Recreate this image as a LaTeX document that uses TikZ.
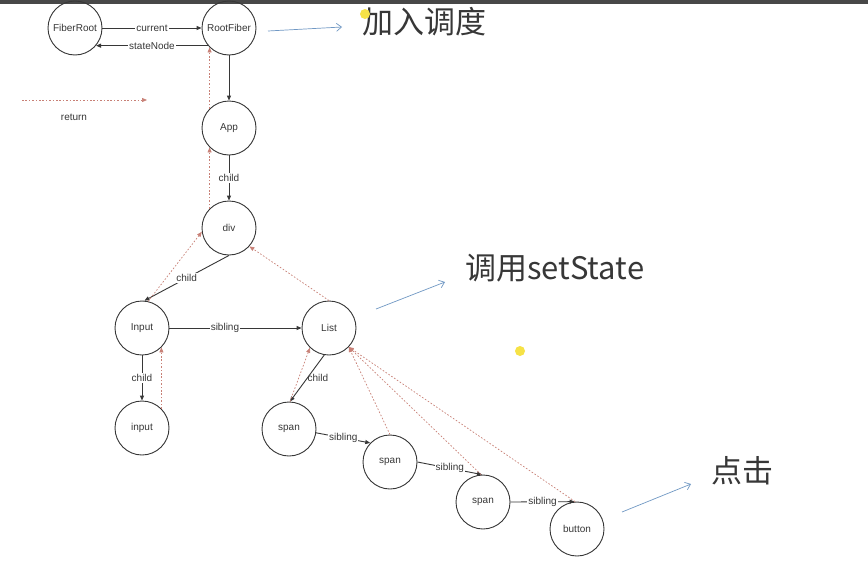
\documentclass[tikz,border=0pt]{standalone}
\usepackage{fontspec}
\setmainfont{Liberation Sans}
\newfontfamily\cjk{Noto Sans CJK SC}
\usetikzlibrary{arrows.meta}
\definecolor{ink}{RGB}{55,55,55}
\definecolor{ret}{RGB}{200,128,118}
\definecolor{blu}{RGB}{112,152,196}
\definecolor{barc}{RGB}{72,72,72}
\definecolor{dotc}{RGB}{246,226,70}
\begin{document}
\begin{tikzpicture}[x=1pt,y=-1pt,
 fib/.style={circle,draw=ink,line width=0.9pt,minimum size=54pt,inner sep=0pt,font=\fontsize{10}{12}\selectfont,text=ink},
 ptr/.style={draw=ink,line width=0.9pt,-{Triangle[length=5pt,width=4pt]}},
 lbl/.style={fill=white,inner sep=1pt,font=\fontsize{10}{12}\selectfont,text=ink},
 retn/.style={draw=ret,line width=0.7pt,dash pattern=on 1.6pt off 1.8pt,-{Triangle[length=5pt,width=4pt]}},
 note/.style={draw=blu,line width=0.7pt,-{Straight Barb[length=5pt,width=8pt]}},
 big/.style={font=\cjk\fontsize{31}{36}\selectfont,text=ink,inner sep=0pt}]
\fill[white] (0,0) rectangle (868,576);
\useasboundingbox (0,0) rectangle (868,576);
\fill[barc] (0,0) rectangle (868,4);

% nodes
\node[fib] (FR) at (75,28) {FiberRoot};
\node[fib] (RF) at (229,28) {RootFiber};
\node[fib] (App) at (229,128) {App};
\node[fib] (div) at (229,228) {div};
\node[fib] (Inp) at (142,328) {Input};
\node[fib] (List) at (329,328) {List};
\node[fib] (inp) at (142,428) {input};
\node[fib] (s1) at (289,429) {span};
\node[fib] (s2) at (390,462) {span};
\node[fib] (s3) at (483,502) {span};
\node[fib] (btn) at (577,529) {button};

% child / sibling pointers
\draw[ptr] (FR.east) -- node[lbl] {current} (RF.west);
\draw[ptr] (RF.220) -- node[lbl] {stateNode} (FR.-40);
\draw[ptr] (RF.south) -- (App.north);
\draw[ptr] (App.south) -- node[lbl] {child} (div.north);
\draw[ptr] (div.south) -- node[lbl] {child} (Inp.85);
\draw[ptr] (Inp.east) -- node[lbl,pos=0.42] {sibling} (List.west);
\draw[ptr] (Inp.south) -- node[lbl] {child} (inp.north);
\draw[ptr] (List.-100) -- node[lbl,right,pos=0.5,xshift=-1pt,fill=none] {child} (s1.88);
\draw[ptr] (s1.-8) -- node[lbl] {sibling} (s2.136);
\draw[ptr] (s2.east) -- node[lbl] {sibling} (s3.92);
\draw[ptr] (s3.east) -- node[lbl] {sibling} (btn.95);

% return pointers
\draw[retn] (App.135) -- (RF.225);
\draw[retn] (div.135) -- (App.225);
\draw[retn] (Inp.77) -- (div.188);
\draw[retn] (List.90) -- (div.-42);
\draw[retn] (inp.45) -- (Inp.-45);
\draw[retn] (s1.88) -- (List.226);
\draw[retn] (s2.90) -- (List.-44);
\draw[retn] (s3.94) -- (List.-44);
\draw[retn] (btn.94) -- (List.-44);

% legend
\coordinate (lgA) at (22,100);
\coordinate (lgB) at (147,100);
\draw[retn] (lgA) -- (lgB);
\node[lbl,fill=none] (lgT) at (74,117) {return};

% notes
\node[big,anchor=west] (n1) at (362,22) {加入调度};
\node[big,anchor=west] (n2) at (465,268) {调用setState};
\node[big,anchor=west] (n3) at (711,471) {点击};
\coordinate (a1) at (268,31);
\coordinate (b1) at (342,27);
\coordinate (a2) at (376,309);
\coordinate (b2) at (445,282);
\coordinate (a3) at (622,512);
\coordinate (b3) at (691,484);
\draw[note] (a1) -- (b1);
\draw[note] (a2) -- (b2);
\draw[note] (a3) -- (b3);

% highlight dots
\fill[dotc] (365,14) circle (5);
\fill[dotc] (520,351) circle (5);
\end{tikzpicture}
\end{document}
